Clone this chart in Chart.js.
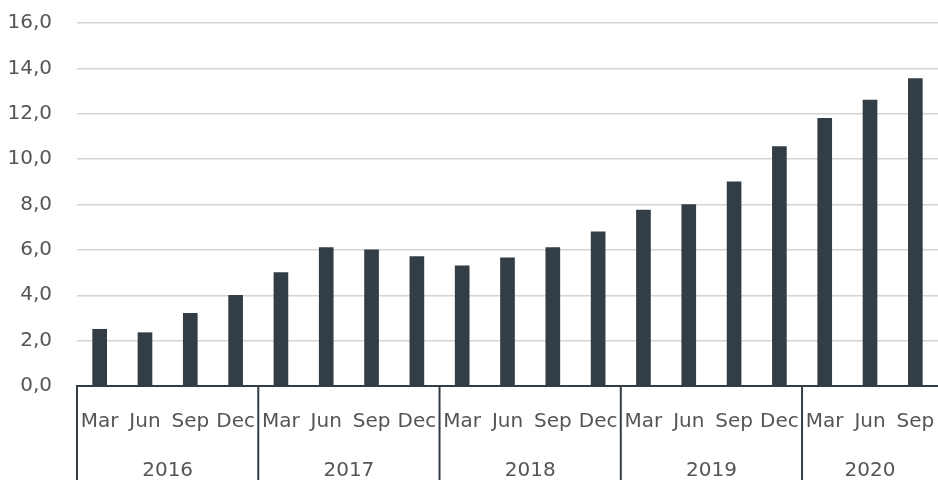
<!DOCTYPE html>
<html>
<head>
<meta charset="utf-8">
<script src="https://cdn.jsdelivr.net/npm/chart.js@4.4.1/dist/chart.umd.min.js"></script>
<style>
  html, body { margin: 0; padding: 0; background: #fff; }
  #wrap { width: 938px; height: 480px; }
</style>
</head>
<body>
<div id="wrap"><canvas id="chart"></canvas></div>
<script>
// Datos del gráfico
const months = ['Mar', 'Jun', 'Sep', 'Dec', 'Mar', 'Jun', 'Sep', 'Dec', 'Mar', 'Jun', 'Sep', 'Dec',
  'Mar', 'Jun', 'Sep', 'Dec', 'Mar', 'Jun', 'Sep'];
const values = [2.5, 2.35, 3.2, 4.0, 5.0, 6.1, 6.0, 5.7, 5.3, 5.65, 6.1, 6.8,
  7.75, 8.0, 9.0, 10.55, 11.8, 12.6, 13.55];
const years = ['2016', '2017', '2018', '2019', '2020'];
const yearStart = [0, 4, 8, 12, 16];
const yTicks = [0, 2, 4, 6, 8, 10, 12, 14, 16];

const dark = '#333d45';
const textColor = '#555555';
const fontFamily = '"DejaVu Sans", sans-serif';

// Separadores y etiquetas de año debajo del eje
const yearGroups = {
  id: 'yearGroups',
  afterDraw(chart) {
    const c = chart.ctx;
    const x = chart.scales.x;
    const area = chart.chartArea;
    const half = (x.getPixelForValue(1) - x.getPixelForValue(0)) / 2;
    c.save();
    c.strokeStyle = dark;
    c.lineWidth = 2;
    c.fillStyle = textColor;
    c.font = '20px ' + fontFamily;
    c.textAlign = 'center';
    c.textBaseline = 'middle';
    years.forEach((yr, i) => {
      const left = x.getPixelForValue(yearStart[i]) - half;
      const right = i < years.length - 1 ? x.getPixelForValue(yearStart[i + 1]) - half : area.right;
      c.beginPath();
      c.moveTo(left, area.bottom);
      c.lineTo(left, chart.height);
      c.stroke();
      c.fillText(yr, (left + right) / 2, 471);
    });
    c.restore();
  }
};

new Chart(document.getElementById('chart'), {
  type: 'bar',
  data: {
    labels: months,
    datasets: [{
      data: values,
      backgroundColor: dark,
      barThickness: 14
    }]
  },
  options: {
    responsive: true,
    maintainAspectRatio: false,
    animation: false,
    layout: { padding: { top: 23, left: 0, right: 0, bottom: 0 } },
    plugins: {
      legend: { display: false },
      tooltip: { enabled: false }
    },
    scales: {
      x: {
        grid: { display: false, drawTicks: false },
        border: { display: true, color: dark, width: 2 },
        ticks: {
          color: textColor,
          font: { size: 20, family: fontFamily },
          padding: 24,
          maxRotation: 0,
          autoSkip: false
        },
        afterFit(s) {
          s.height = 94;
          s.paddingLeft = 0;
          s.paddingRight = 0;
        }
      },
      y: {
        min: 0,
        max: 16,
        afterBuildTicks(s) { s.ticks = yTicks.map(v => ({ value: v })); },
        grid: { color: '#d4d4d4', lineWidth: 1.5, drawTicks: false },
        border: { display: false },
        ticks: {
          color: textColor,
          font: { size: 20, family: fontFamily },
          padding: 25,
          callback: v => v.toFixed(1).replace('.', ',')
        },
        afterFit(s) {
          s.width = 77;
          s.paddingTop = 0;
          s.paddingBottom = 0;
        }
      }
    }
  },
  plugins: [yearGroups]
});
</script>
</body>
</html>
